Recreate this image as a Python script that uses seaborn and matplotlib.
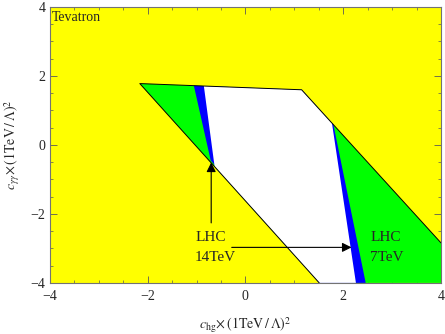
import numpy as np
import pandas as pd
import matplotlib
matplotlib.use("Agg")
import matplotlib.pyplot as plt
import seaborn as sns

# allowed region boundaries (c_hg, c_gammagamma)
outer_x = [-2.16, 1.15, 4.00, 4.00, 1.51]
outer_y = [1.78, 1.60, -2.84, -4.00, -4.00]

lhc7_x = [-1.055, 1.15, 1.80, 2.46, 1.51, -0.71]
lhc7_y = [1.72, 1.60, 0.587, -4.00, -4.00, -0.45]

lhc14_x = [-0.85, 1.15, 1.77, 2.26, 1.51, -0.63]
lhc14_y = [1.709, 1.60, 0.634, -4.00, -4.00, -0.63]

edge_x = [1.51, -2.16, 1.15, 4.00]
edge_y = [-4.00, 1.78, 1.60, -2.84]

arrow14 = (-0.70, -2.26, -0.70, -0.51)
arrow7 = (-0.28, -2.97, 2.17, -2.97)

sns.set_theme(style="ticks")
plt.rcParams['font.family'] = ['Liberation Serif', 'DejaVu Serif']
plt.rcParams['mathtext.fontset'] = 'stix'

fig = plt.figure(figsize=(4.45, 3.34), dpi=100)
ax = fig.add_axes([0.112, 0.153, 0.879, 0.826])
ax.set_facecolor('#FFFF00')

ax.fill(outer_x, outer_y, color='#00FF00', lw=0)
ax.fill(lhc7_x, lhc7_y, color='#0000FF', lw=0)
ax.fill(lhc14_x, lhc14_y, color='white', lw=0)

edges = pd.DataFrame({'x': edge_x, 'y': edge_y})
sns.lineplot(data=edges, x='x', y='y', sort=False, color='black', lw=0.7, ax=ax)

for x0, y0, x1, y1 in [arrow14, arrow7]:
    ax.annotate('', xy=(x1, y1), xytext=(x0, y0),
                arrowprops=dict(arrowstyle='-|>', color='black', lw=0.8,
                                mutation_scale=14, shrinkA=0, shrinkB=0))

ax.text(-1.03, -2.98, 'LHC\n14TeV', fontsize=11, va='center', ha='left', linespacing=1.7)
ax.text(2.55, -2.98, 'LHC\n7TeV', fontsize=11, va='center', ha='left', linespacing=1.7)
ax.text(0.006, 0.985, 'Tevatron', transform=ax.transAxes, fontsize=10, va='top', ha='left')

ax.set_xlim(-4, 4)
ax.set_ylim(-4, 4)
ax.set_xticks([-4, -2, 0, 2, 4])
ax.set_yticks([-4, -2, 0, 2, 4])
ax.set_xticks(np.arange(-4, 4.01, 0.5), minor=True)
ax.set_yticks(np.arange(-4, 4.01, 0.5), minor=True)
ax.tick_params(which='both', direction='in', top=True, right=True, labelsize=10, color='0.35')
ax.tick_params(which='major', length=5, width=0.6)
ax.tick_params(which='minor', length=2.5, width=0.5)
ax.tick_params(axis='x', pad=5)
ax.tick_params(axis='y', pad=3)
for s in ax.spines.values():
    s.set_color('0.45')
    s.set_linewidth(0.8)

ax.set_xlabel(r'$c_{\mathrm{hg}}\!\times(1\mathrm{TeV}\,/\,\Lambda)^2$', fontsize=10, labelpad=9)
ax.set_ylabel(r'$c_{\gamma\gamma}\!\times(1\mathrm{TeV}\,/\,\Lambda)^2$', fontsize=10, labelpad=6)

fig.savefig('out.png', dpi=100)
